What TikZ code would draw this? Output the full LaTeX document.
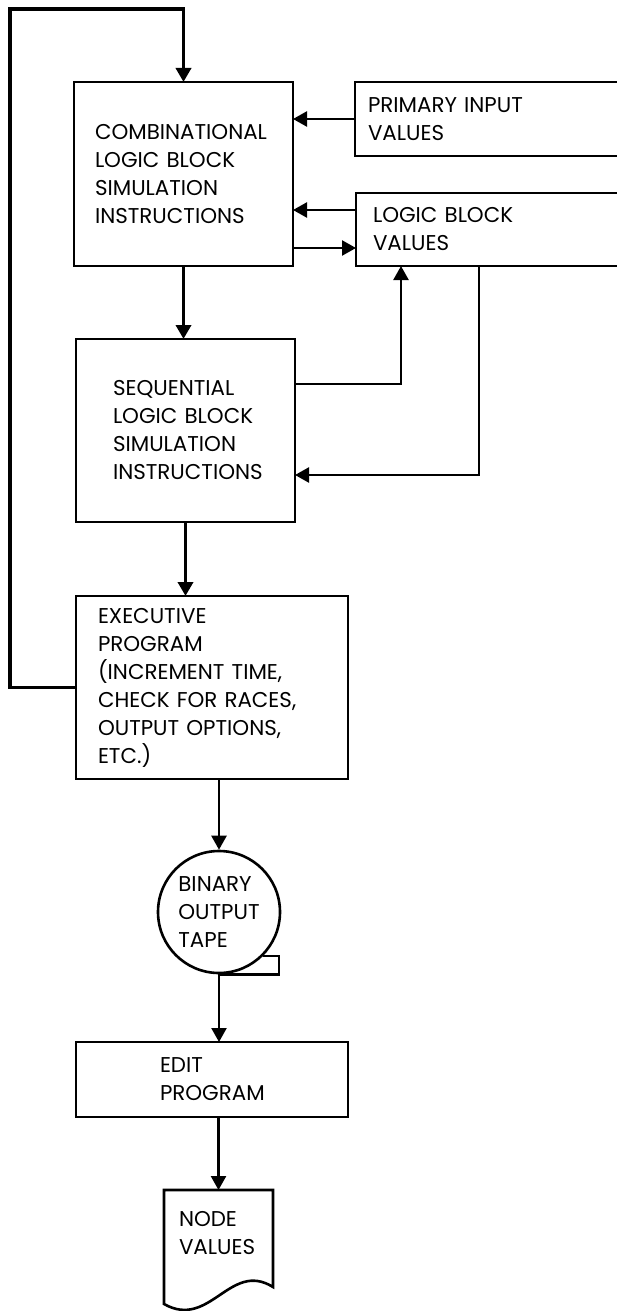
\documentclass[tikz,border=0pt]{standalone}
\usepackage{fontspec}
\setmainfont{Poppins}
\usetikzlibrary{arrows.meta}
\tikzset{
 block/.style={
 rectangle,
 draw,
 line width=1.3pt,
 align=left,
 inner sep=0pt,
 outer sep=0pt,
 font=\fontsize{10.7}{14}\selectfont
 },
 tapebox/.style={
 circle,
 draw,
 line width=1.3pt,
 align=left,
 inner sep=0pt,
 minimum size=61pt,
 font=\fontsize{10.7}{14}\selectfont
 },
 docbox/.style={
 rectangle,
 align=left,
 inner sep=0pt,
 outer sep=0pt,
 minimum width=54.5pt,
 minimum height=43.5pt,
 text width=39.5pt,
 font=\fontsize{10.7}{14}\selectfont
 },
 flow/.style={-{Triangle[length=7pt,width=7.5pt]}, line width=1.2pt},
 mainflow/.style={flow, line width=1.8pt}
}

\begin{document}
\begin{tikzpicture}[x=0.5pt, y=-0.5pt]
 \useasboundingbox (0,0) rectangle (616,1311);

 % program blocks
 \node[block, minimum width=109.5pt, minimum height=92pt, text width=88.5pt] (comb) at (183.5,174)
 {COMBINATIONAL\\LOGIC BLOCK\\SIMULATION\\INSTRUCTIONS};
 \node[block, minimum width=109.5pt, minimum height=91.5pt, text width=72.5pt] (seq) at (185.5,430.5)
 {SEQUENTIAL\\LOGIC BLOCK\\SIMULATION\\INSTRUCTIONS};
 \node[block, minimum width=136pt, minimum height=91.5pt, text width=114pt] (exec) at (212,687.5)
 {EXECUTIVE\\PROGRAM\\(INCREMENT TIME,\\CHECK FOR RACES,\\OUTPUT OPTIONS,\\ETC.)};
 \node[block, minimum width=136pt, minimum height=37.5pt, text width=52pt] (edit) at (212,1079.5)
 {EDIT\\PROGRAM};

 % value tables
 \node[block, minimum width=132.5pt, minimum height=37pt, text width=119.5pt] (prim) at (487.5,119)
 {PRIMARY INPUT\\VALUES};
 \node[block, minimum width=132pt, minimum height=36.5pt, text width=115pt] (lbv) at (488,229.5)
 {LOGIC BLOCK\\VALUES};

 % tape and document
 \node[tapebox] (tape) at (219,912) {BINARY\\OUTPUT\\TAPE};
 \draw[line width=1.3pt] (tape.south) -| ([xshift=8pt]tape.-45) -- (tape.-45);
 \node[docbox] (doc) at (218.5,1233.5) {NODE\\VALUES};
 \draw[line width=1.3pt] (doc.north west) -- (doc.north east) -- (273,1287)
 .. controls (230,1260) and (210,1330) .. (164,1304) -- cycle;

 % connectors
 \coordinate (loop) at (10,9);
 \coordinate (lbvin) at ([yshift=9.75pt]lbv.west);
 \coordinate (combout) at ([yshift=-37pt]comb.east);
 \coordinate (seqout) at ([yshift=23.25pt]seq.east);
 \coordinate (seqin) at ([yshift=-22.25pt]seq.east);
 \coordinate (lbvup) at ([xshift=22.5pt]lbv.south west);
 \coordinate (lbvdown) at ([xshift=61.5pt]lbv.south west);

 \draw[mainflow] (exec.west) -| (loop) -| (comb.north);
 \draw[flow] (prim.west) -- (prim.west -| comb.east);
 \draw[flow] (lbvin) -- (lbvin -| comb.east);
 \draw[flow] (combout) -- (combout -| lbv.west);
 \draw[flow] (seqout) -| (lbvup);
 \draw[flow] (lbvdown) |- (seqin);
 \draw[mainflow] (comb.south) -- (comb.south |- seq.north);
 \draw[mainflow] (seq.south) -- (seq.south |- exec.north);
 \draw[flow] (tape.north |- exec.south) -- (tape.north);
 \draw[flow] (tape.south) -- (tape.south |- edit.north);
 \draw[flow] (doc.north |- edit.south) -- (doc.north);
\end{tikzpicture}
\end{document}
